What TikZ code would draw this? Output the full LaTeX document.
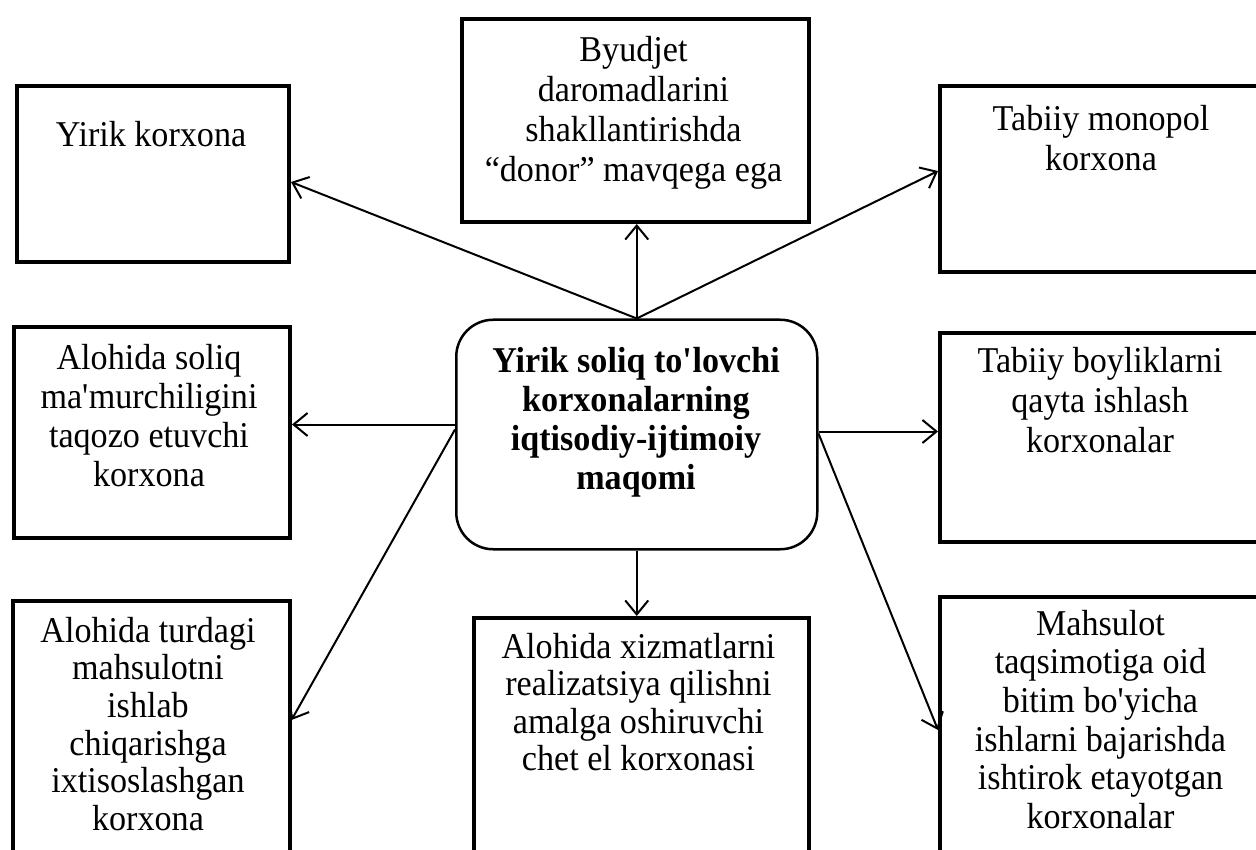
\documentclass[tikz,border=0pt]{standalone}
\usepackage{fontspec}
\setmainfont{Liberation Serif}[FakeStretch=0.94]
\usetikzlibrary{arrows.meta,calc}
\begin{document}
\begin{tikzpicture}[x=1pt,y=-1pt,
  box/.style={draw, line width=4pt, rectangle, anchor=north west, inner sep=0pt},
  hub/.style={draw, line width=2.5pt, rectangle, rounded corners=37pt, anchor=north west, inner sep=0pt},
  txt/.style={align=center, inner sep=0pt, anchor=north},
  arr/.style={line width=2pt, -{Straight Barb[length=14pt,width=23pt,line width=2pt]}}]
\useasboundingbox (0,0) rectangle (1256,850);
\clip (0,0) rectangle (1256,850);
% boxes
\node[box, minimum width=272pt, minimum height=176pt] (y1) at (15,84) {};
\node[box, minimum width=347pt, minimum height=203pt] (b2) at (460,17) {};
\node[box, minimum width=360pt, minimum height=186pt] (m3) at (938,84) {};
\node[box, minimum width=276.5pt, minimum height=211pt] (a4) at (11.5,325) {};
\node[hub, minimum width=361pt, minimum height=229.5pt] (c) at (455,318.5) {};
\node[box, minimum width=360pt, minimum height=209pt] (t6) at (938,331) {};
\node[box, minimum width=277pt, minimum height=300pt] (bl7) at (10.5,599) {};
\node[box, minimum width=335pt, minimum height=300pt] (bm8) at (472,616) {};
\node[box, minimum width=360pt, minimum height=300pt] (br9) at (938,595) {};
% texts
\node[txt, font=\fontsize{36.3pt}{39pt}\selectfont] (y1t) at (151,118.7) {\strut Yirik korxona};
\node[txt, font=\fontsize{36.3pt}{40pt}\selectfont] (b2t) at (633.5,33) {\strut Byudjet\\daromadlarini\\shakllantirishda\\“donor” mavqega ega};
\node[txt, font=\fontsize{36.3pt}{40pt}\selectfont] (m3t) at (1101,102) {\strut Tabiiy monopol\\korxona};
\node[txt, font=\fontsize{36.3pt}{39pt}\selectfont] (a4t) at (149,341.7) {\strut Alohida soliq\\ma\textquotesingle murchiligini\\taqozo etuvchi\\korxona};
\node[txt, font=\fontsize{36.3pt}{39pt}\selectfont\bfseries] (ct) at (636,344.7) {\strut Yirik soliq to\textquotesingle lovchi\\korxonalarning\\iqtisodiy-ijtimoiy\\maqomi};
\node[txt, font=\fontsize{36.3pt}{40pt}\selectfont] (t6t) at (1100,344) {\strut Tabiiy boyliklarni\\qayta ishlash\\korxonalar};
\node[txt, font=\fontsize{36.3pt}{37.6pt}\selectfont] (bl7t) at (148,615.7) {\strut Alohida turdagi\\mahsulotni\\ishlab\\chiqarishga\\ixtisoslashgan\\korxona};
\node[txt, font=\fontsize{36.3pt}{37.5pt}\selectfont] (bm8t) at (638.5,631.75) {\strut Alohida xizmatlarni\\realizatsiya qilishni\\amalga oshiruvchi\\chet el korxonasi};
\node[txt, font=\fontsize{36.3pt}{38.6pt}\selectfont] (br9t) at (1100.5,608) {\strut Mahsulot\\taqsimotiga oid\\bitim bo\textquotesingle yicha\\ishlarni bajarishda\\ishtirok etayotgan\\korxonalar};
% connectors
\coordinate (cw1) at ($(c.west)+(0,-10)$);
\coordinate (cw2) at ($(c.west)+(0,-5)$);
\coordinate (ce1) at ($(c.east)+(0,-3)$);
\coordinate (ce2) at ($(c.east)+(0,-1)$);
\draw[arr] (c.north) -- (c.north |- b2.south);
\draw[arr] (c.north) -- ($(y1.east)+(0,8)$);
\draw[arr] (c.north) -- ($(m3.west)+(0,-8)$);
\draw[arr] (cw1) -- (cw1 -| a4.east);
\draw[arr] (cw2) -- ($(bl7.north east)+(0,121)$);
\draw[arr] (ce1) -- (ce1 -| t6.west);
\draw[arr] (ce2) -- ($(br9.north west)+(0,135)$);
\draw[arr] (c.south) -- (c.south |- bm8.north);
\end{tikzpicture}
\end{document}
